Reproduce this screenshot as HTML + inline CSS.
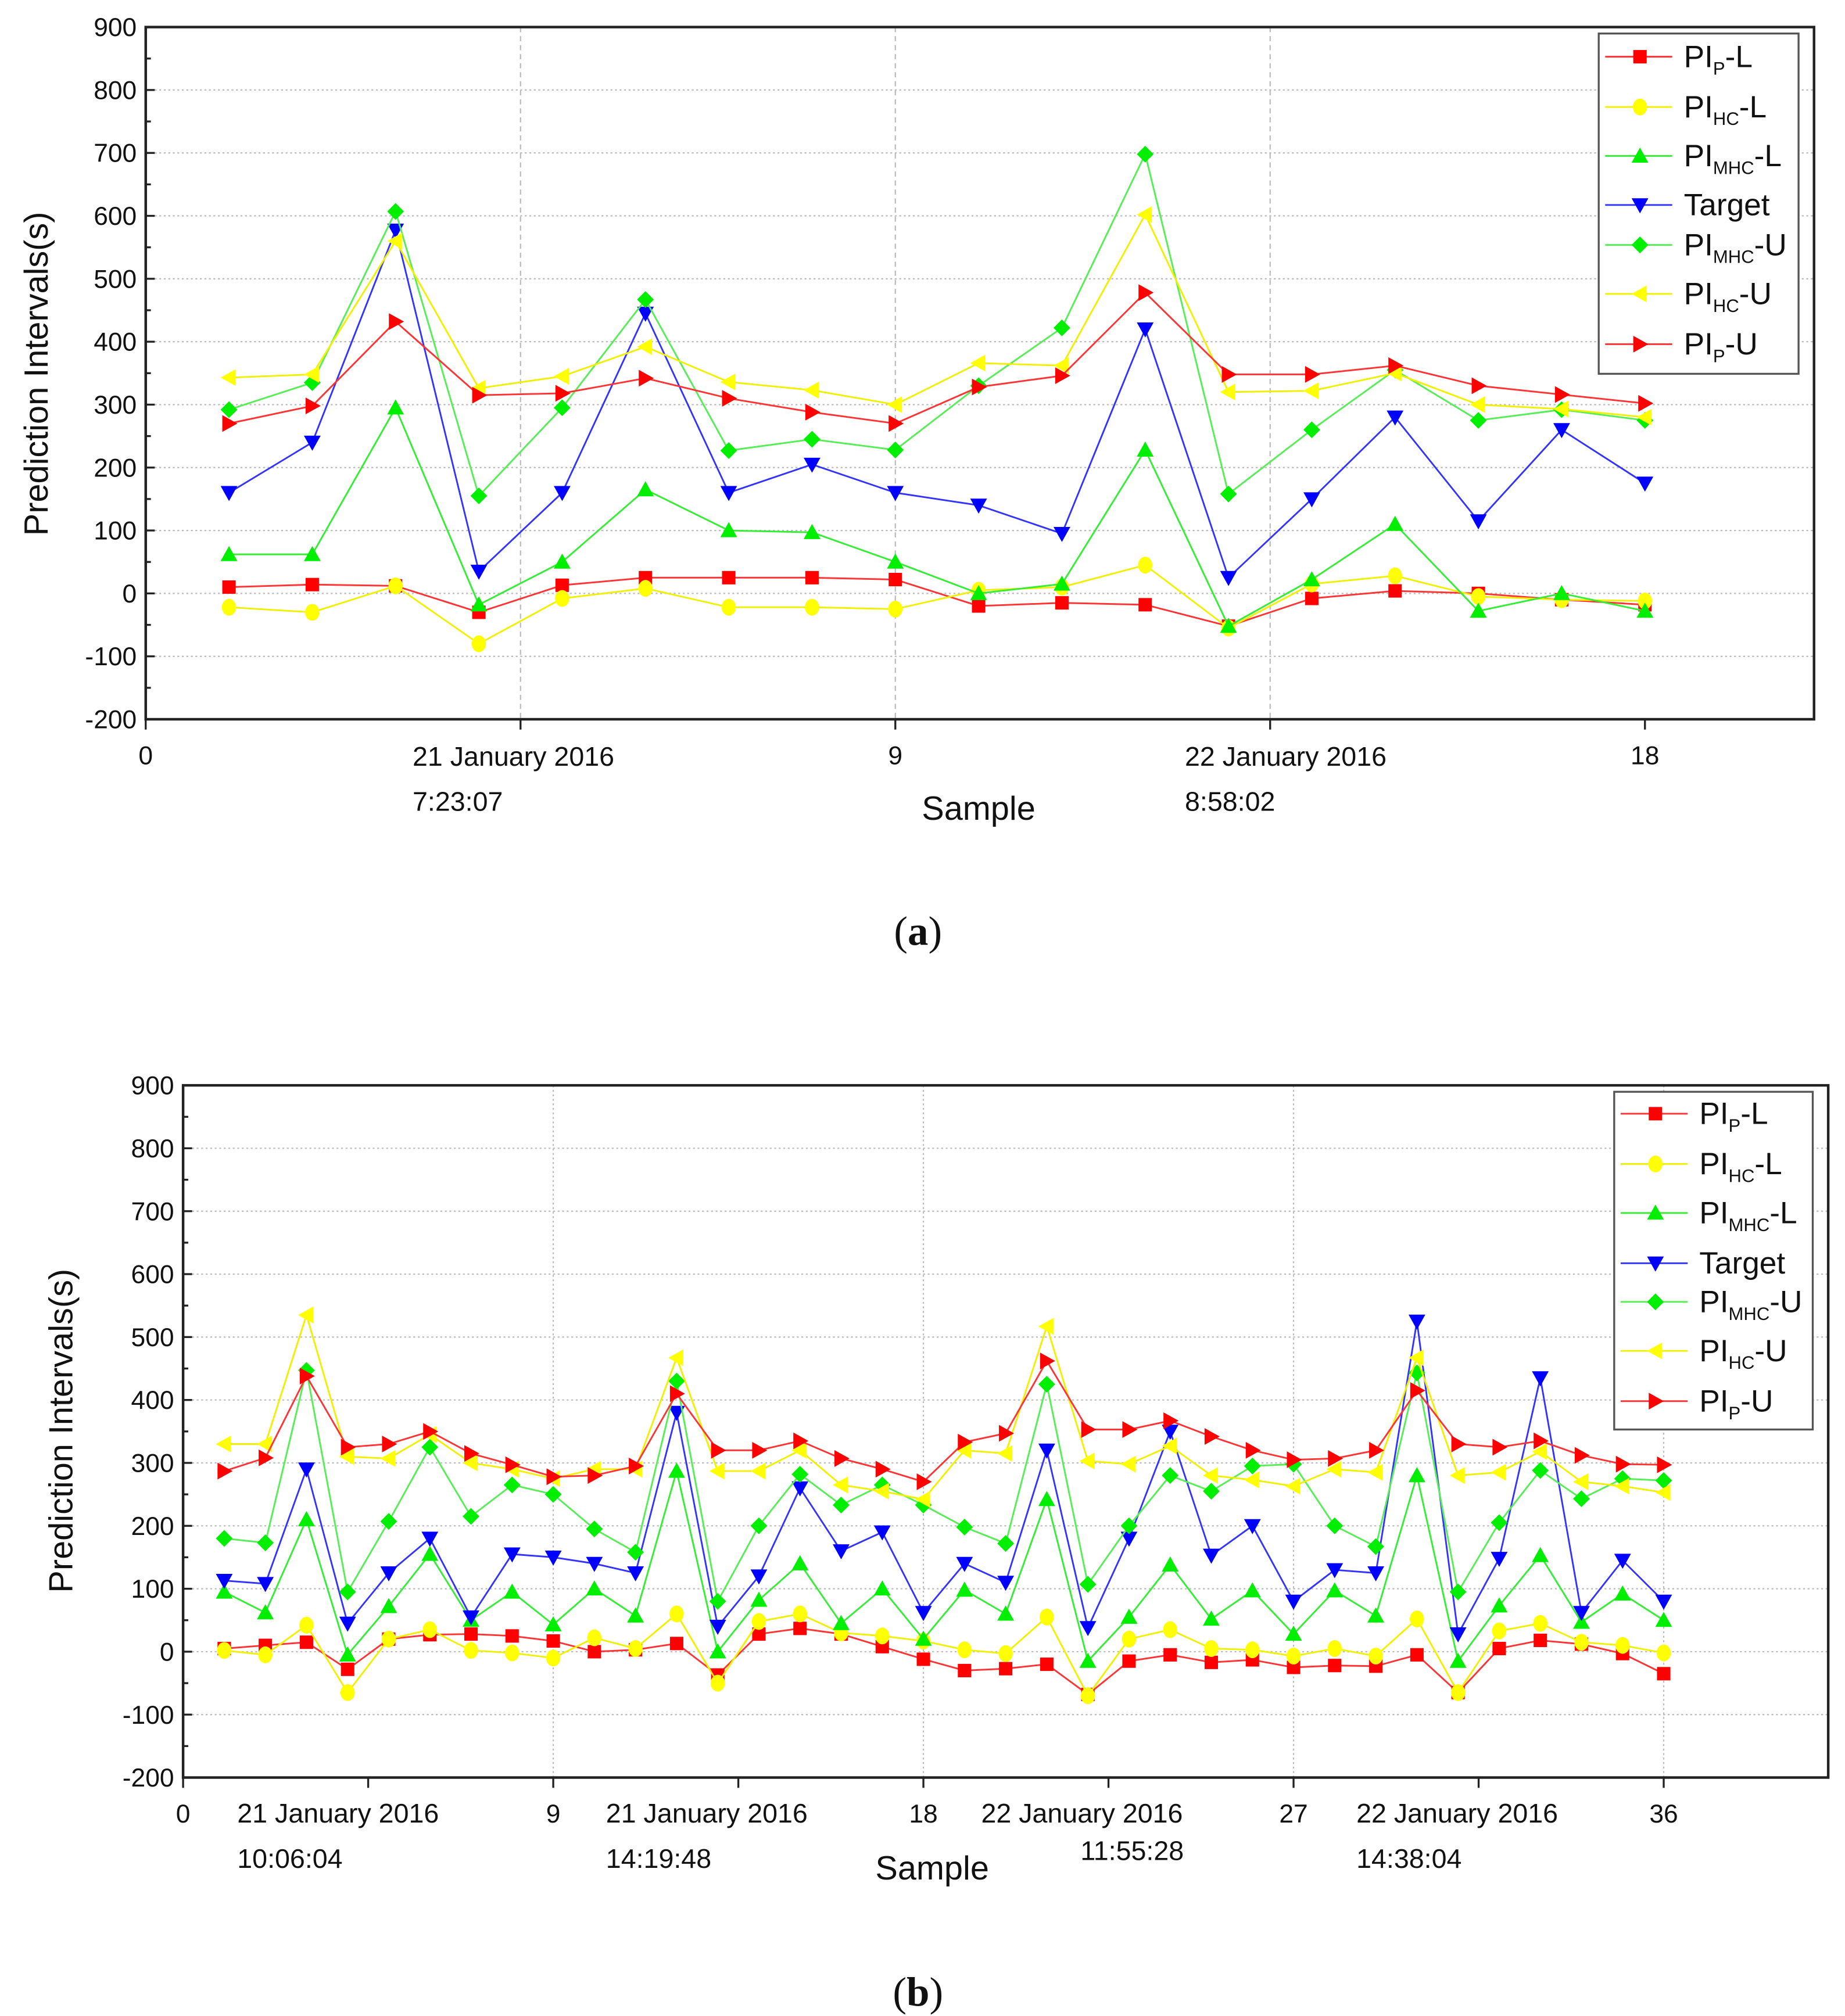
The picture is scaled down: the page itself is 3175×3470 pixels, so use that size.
<!DOCTYPE html>
<html><head><meta charset="utf-8"><style>
html,body{margin:0;padding:0;background:#fff;}
svg{display:block;font-family:"Liberation Sans",Arial,sans-serif;}
</style></head><body>
<svg id="root" width="3175" height="3470" viewBox="0 0 1431 1564" xmlns="http://www.w3.org/2000/svg">
<rect width="1431" height="1564" fill="#fff"/>
</svg>
<script>
// ---------- chart (a) data ----------
const samplesA = [1,2,3,4,5,6,7,8,9,10,11,12,13,14,15,16,17,18];
const aPpL   = [10,14,12,-30,13,25,25,25,22,-20,-15,-18,-52,-8,4,0,-10,-18];
const aHcL   = [-22,-30,12,-80,-8,8,-22,-22,-25,5,10,45,-55,15,28,-5,-10,-12];
const aMhcL  = [62,62,295,-18,50,165,100,97,50,0,15,228,-52,22,110,-28,0,-28];
const aTarget= [160,240,577,35,160,445,160,205,160,140,95,420,25,150,280,115,260,175];
const aMhcU  = [292,335,607,155,295,467,227,245,228,330,422,698,158,260,355,275,292,275];
const aHcU   = [343,348,560,326,345,392,336,323,300,366,362,602,320,322,350,300,293,280];
const aPpU   = [270,298,432,315,318,342,310,288,270,328,346,478,348,348,362,330,316,302];
const aXTicks = [0,9,18];
const yTicks = [-200,-100,0,100,200,300,400,500,600,700,800,900];
// ---------- chart (b) data ----------
const samplesB = [1,2,3,4,5,6,7,8,9,10,11,12,13,14,15,16,17,18,19,20,21,22,23,24,25,26,27,28,29,30,31,32,33,34,35,36];
const bTarget= [113,108,290,45,125,180,55,155,150,140,125,380,40,120,260,160,190,62,140,110,320,38,180,350,153,200,80,130,125,525,28,148,435,62,145,80];
const bPpL   = [5,10,15,-28,20,27,28,25,17,0,3,13,-37,28,37,28,8,-12,-30,-27,-20,-68,-15,-5,-17,-13,-25,-22,-23,-5,-65,5,18,12,-3,-35];
const bHcL   = [2,-5,42,-65,20,35,2,-2,-10,22,5,60,-50,48,60,30,25,17,3,-3,55,-70,20,35,5,3,-7,5,-7,52,-65,33,45,15,10,-2];
const bMhcL  = [95,62,210,-5,72,155,50,95,43,100,57,287,0,82,140,45,100,20,98,60,242,-15,55,138,52,97,28,97,57,280,-15,73,153,47,92,50];
const bMhcU  = [180,173,447,95,207,325,215,265,250,195,158,430,80,200,282,233,265,233,198,172,425,107,200,280,255,295,298,200,167,443,95,205,288,243,275,272];
const bHcU   = [330,330,535,310,307,345,300,290,275,290,290,467,287,287,320,265,255,242,320,315,517,303,298,327,280,273,263,290,285,467,280,285,318,270,263,253];
const bPpU   = [287,308,438,325,330,350,315,297,278,280,295,410,320,320,335,307,290,270,333,347,462,353,353,367,342,320,305,307,320,415,330,325,335,312,298,297];
const bXTicks = [0,9,18,27,36];

const NS="http://www.w3.org/2000/svg";
const root=document.getElementById('root');
function el(tag,attrs,parent){const e=document.createElementNS(NS,tag);for(const k in attrs)e.setAttribute(k,attrs[k]);(parent||root).appendChild(e);return e;}

function marker(g,shape,cx,cy,color,r){
  let e;
  if(shape==='square') e=el('rect',{x:cx-r*0.8,y:cy-r*0.8,width:r*1.6,height:r*1.6,fill:color},g);
  else if(shape==='circle') e=el('ellipse',{cx:cx,cy:cy,rx:r*0.85,ry:r,fill:color},g);
  else if(shape==='up') e=el('polygon',{points:`${cx},${cy-r} ${cx-r},${cy+r*0.8} ${cx+r},${cy+r*0.8}`,fill:color},g);
  else if(shape==='down') e=el('polygon',{points:`${cx},${cy+r} ${cx-r},${cy-r*0.8} ${cx+r},${cy-r*0.8}`,fill:color},g);
  else if(shape==='diamond') e=el('polygon',{points:`${cx},${cy-r} ${cx+r},${cy} ${cx},${cy+r} ${cx-r},${cy}`,fill:color},g);
  else if(shape==='left') e=el('polygon',{points:`${cx-r},${cy} ${cx+r*0.8},${cy-r} ${cx+r*0.8},${cy+r}`,fill:color},g);
  else if(shape==='right') e=el('polygon',{points:`${cx+r},${cy} ${cx-r*0.8},${cy-r} ${cx-r*0.8},${cy+r}`,fill:color},g);
  return e;
}

function drawChart(cfg){
  const g=el('g',{});
  
  
  const L=cfg.left,R=cfg.right,T=cfg.top,B=cfg.bottom;
  const xs=v=>L+(v-0)/(cfg.xmax)*(R-L);
  const ys=v=>B-(v+200)/1100*(B-T);
  // grid
  yTicks.forEach(t=>{ if(t>-200&&t<900){const l=el('line',{x1:L,x2:R,y1:ys(t),y2:ys(t),stroke:'#bbb','stroke-width':1,'stroke-dasharray':'1.5,2'},g);
    
    }});
  cfg.vgrid.forEach(v=>{const l=el('line',{x1:xs(v),x2:xs(v),y1:T,y2:B,stroke:'#bbb','stroke-width':1,'stroke-dasharray':cfg.vdash},g);
    
    });
  // frame
  const fr=el('rect',{x:L,y:T,width:R-L,height:B-T,fill:'none',stroke:'#222','stroke-width':2},g);
  
  
  // y ticks
  for(let v=-200;v<=900;v+=50){const major=v%100===0;
    el('line',{x1:L,x2:L+(major?7:4),y1:ys(v),y2:ys(v),stroke:'#222','stroke-width':1.5},g);}
  yTicks.forEach(t=>{const tx=el('text',{x:L-7,y:ys(t)+7,'font-size':20,'text-anchor':'end',fill:'#111'},g);tx.textContent=t;
    
    });
  // x ticks
  cfg.xticks.forEach(t=>{el('line',{x1:xs(t),x2:xs(t),y1:B,y2:B+8,stroke:'#222','stroke-width':1.5},g);
    const tx=el('text',{x:xs(t),y:B+35,'font-size':20,'text-anchor':'middle',fill:'#111'},g);tx.textContent=t;
    
    });
  cfg.dateTicks.forEach(t=>{el('line',{x1:xs(t),x2:xs(t),y1:B,y2:B+8,stroke:'#222','stroke-width':1.5},g);});
  cfg.dates.forEach(d=>{const tx=el('text',{x:d[0],y:d[1],'font-size':21,fill:'#111'},g);tx.textContent=d[2];
    
    });
  // axis titles
  const xt=el('text',{x:cfg.xTitle[0],y:cfg.xTitle[1],'font-size':26,'text-anchor':'middle',fill:'#111'},g);xt.textContent='Sample';
  
  
  const yt=el('text',{x:0,y:0,'font-size':26,'text-anchor':'middle',fill:'#111',transform:`translate(${cfg.yTitle[0]},${cfg.yTitle[1]}) rotate(-90)`},g);yt.textContent='Prediction Intervals(s)';
  
  
  // series
  cfg.series.forEach(s=>{
    const sg=el('g',{},g);
    
    
    const pts=cfg.samples.map((x,i)=>xs(x)+','+ys(s.data[i])).join(' ');
    el('polyline',{points:pts,fill:'none',stroke:s.line,'stroke-width':1.3},sg);
    cfg.samples.forEach((x,i)=>{const m=marker(sg,s.shape,xs(x),ys(s.data[i]),s.color,6.5);
      
      });
  });
  // legend
  const lg=el('g',{},g);
  
  
  const [lx,ly,lw,lh]=cfg.legend;
  el('rect',{x:lx,y:ly,width:lw,height:lh,fill:'#fff',stroke:'#555','stroke-width':1.5},lg);
  cfg.series.forEach((s,i)=>{
    const y=cfg.legendY[i];
    const eg=el('g',{},lg);
    
    
    el('line',{x1:lx+5,x2:lx+57,y1:y,y2:y,stroke:s.line,'stroke-width':1.3},eg);
    marker(eg,s.shape,lx+32,y,s.color,6.5);
    const tx=el('text',{x:lx+66,y:y+8,'font-size':24,fill:'#111'},eg);
    if(s.sub){tx.textContent='PI';const ts=el('tspan',{'font-size':14,dy:6},tx);ts.textContent=s.sub;const t2=el('tspan',{dy:-6},tx);t2.textContent=s.suf;}
    else tx.textContent=s.label;
  });
}
function seriesList(d){return [
  {key:'pi-p-l',data:d[0],shape:'square',color:'#ff0000',line:'#ff3333',sub:'P',suf:'-L'},
  {key:'pi-hc-l',data:d[1],shape:'circle',color:'#ffff00',line:'#f0f000',sub:'HC',suf:'-L'},
  {key:'pi-mhc-l',data:d[2],shape:'up',color:'#00ee00',line:'#33ee33',sub:'MHC',suf:'-L'},
  {key:'target',data:d[3],shape:'down',color:'#0000ff',line:'#3333ff',label:'Target'},
  {key:'pi-mhc-u',data:d[4],shape:'diamond',color:'#00ee00',line:'#55ee55',sub:'MHC',suf:'-U'},
  {key:'pi-hc-u',data:d[5],shape:'left',color:'#ffff00',line:'#f0f000',sub:'HC',suf:'-U'},
  {key:'pi-p-u',data:d[6],shape:'right',color:'#ff0000',line:'#ff3333',sub:'P',suf:'-U'}];}

drawChart({name:'chart-a',left:113,right:1407,top:21,bottom:558,xmax:20.03,samples:samplesA,
  xticks:aXTicks,dateTicks:[4.5,13.5],vgrid:[4.5,9,13.5],vdash:'4,3',
  dates:[[320,594,'21 January 2016'],[320,629,'7:23:07'],[919,594,'22 January 2016'],[919,629,'8:58:02']],
  xTitle:[759,636],yTitle:[37,290],
  series:seriesList([aPpL,aHcL,aMhcL,aTarget,aMhcU,aHcU,aPpU]),
  legend:[1240,26,155,264],legendY:[44,83,121,159,190,228,267]});
drawChart({name:'chart-b',left:142,right:1418,top:842,bottom:1379,xmax:40,samples:samplesB,
  xticks:bXTicks,dateTicks:[4.5,13.5,22.5,31.5],vgrid:[9,18,27,36],vdash:'1.5,2',
  dates:[[184,1414,'21 January 2016'],[184,1449,'10:06:04'],[470,1414,'21 January 2016'],[470,1449,'14:19:48'],[761,1414,'22 January 2016'],[838,1443,'11:55:28'],[1052,1414,'22 January 2016'],[1052,1449,'14:38:04']],
  xTitle:[723,1458],yTitle:[56,1110],
  series:seriesList([bPpL,bHcL,bMhcL,bTarget,bMhcU,bHcU,bPpU]),
  legend:[1252,847,154,262],legendY:[864,903,941,980,1010,1048,1087]});

[[712,733,'a','caption-a'],[712,1556,'b','caption-b']].forEach(c=>{
  const t=el('text',{x:c[0],y:c[1],'font-size':32,'text-anchor':'middle','font-family':'"Liberation Serif",serif',fill:'#111'});
  
  
  t.appendChild(document.createTextNode('('));
  const b=el('tspan',{'font-weight':'bold'},t);b.textContent=c[2];
  t.appendChild(document.createTextNode(')'));
});
</script>
</body></html>
